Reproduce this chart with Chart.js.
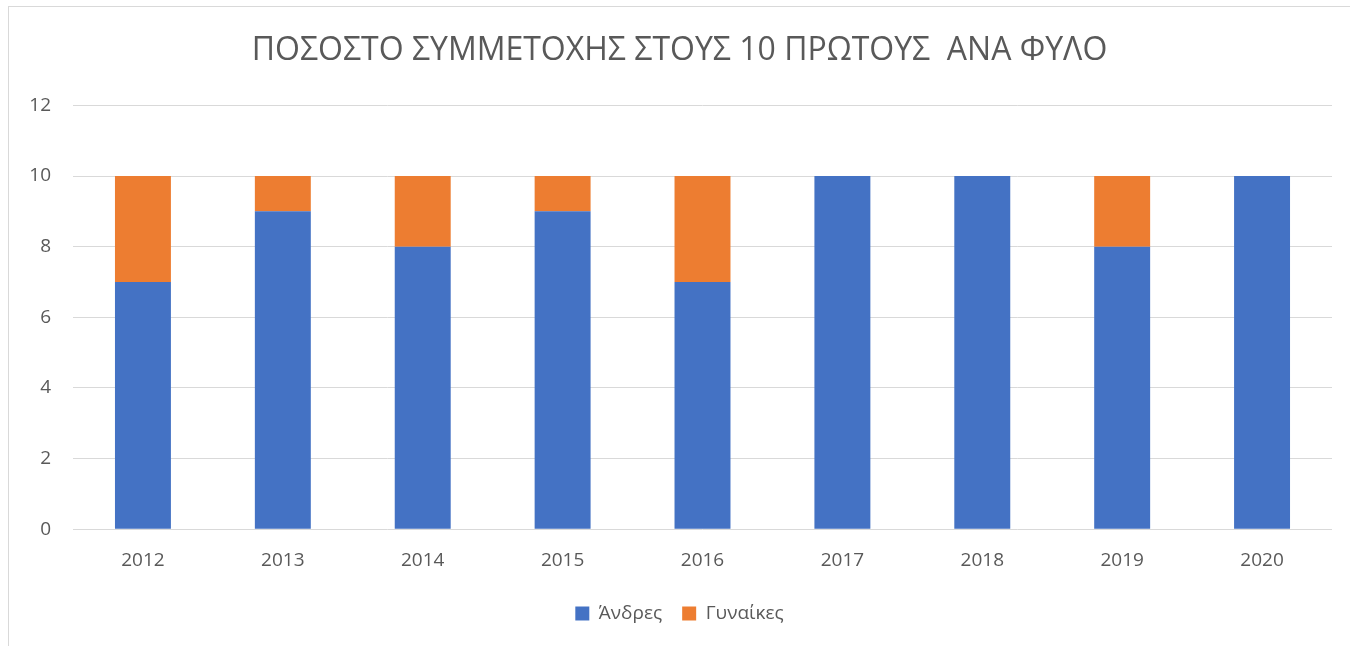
<!DOCTYPE html>
<html>
<head>
<meta charset="utf-8">
<script src="https://cdn.jsdelivr.net/npm/chart.js@4"></script>
<style>
    body { margin: 0; background: #fff; }
    #wrap { position: relative; width: 1350px; height: 646px; }
    #frame {
        position: absolute; left: 8px; top: 6px; right: 0; bottom: 0;
        border-left: 1px solid #d9d9d9; border-top: 1px solid #d9d9d9;
    }
    canvas { position: absolute; left: 0; top: 0; }
</style>
</head>
<body>
<div id="wrap">
    <div id="frame"></div>
    <canvas id="chart" width="1350" height="646"></canvas>
</div>
<script>
// Data
const years = ['2012', '2013', '2014', '2015', '2016', '2017', '2018', '2019', '2020'];
const men = [7, 9, 8, 9, 7, 10, 10, 8, 10];
const women = [3, 1, 2, 1, 3, 0, 0, 2, 0];
const yTicks = [0, 2, 4, 6, 8, 10, 12];

const textColor = '#595959';
const fontFamily = '"Open Sans", "Noto Sans", sans-serif';

const ctx = document.getElementById('chart').getContext('2d');
new Chart(ctx, {
    type: 'bar',
    data: {
        labels: years,
        datasets: [
            {
                label: 'Άνδρες',
                data: men,
                backgroundColor: '#4472c4',
                barPercentage: 0.4,
                categoryPercentage: 1
            },
            {
                label: 'Γυναίκες',
                data: women,
                backgroundColor: '#ed7d31',
                barPercentage: 0.4,
                categoryPercentage: 1
            }
        ]
    },
    options: {
        responsive: false,
        animation: false,
        // extra left padding pushes title and legend centre to the right like the original
        layout: { padding: { top: 22, right: 18, bottom: 13, left: 27 } },
        plugins: {
            title: {
                display: true,
                text: 'ΠΟΣΟΣΤΟ ΣΥΜΜΕΤΟΧΗΣ ΣΤΟΥΣ 10 ΠΡΩΤΟΥΣ  ΑΝΑ ΦΥΛΟ',
                color: textColor,
                font: { family: fontFamily, size: 32, weight: 'normal' },
                padding: { top: 10, bottom: 35 }
            },
            legend: {
                position: 'bottom',
                labels: {
                    color: textColor,
                    font: { family: fontFamily, size: 19 },
                    boxWidth: 14,
                    boxHeight: 14,
                    padding: 20
                }
            },
            tooltip: { enabled: false }
        },
        scales: {
            x: {
                stacked: true,
                grid: { display: false },
                border: { display: false },
                ticks: {
                    color: textColor,
                    font: { family: fontFamily, size: 19 },
                    padding: 12
                }
            },
            y: {
                stacked: true,
                min: 0,
                max: 12,
                afterBuildTicks: axis => { axis.ticks = yTicks.map(v => ({ value: v })); },
                afterFit: axis => { axis.width = 46; },
                grid: { color: '#d9d9d9', lineWidth: 1, drawTicks: false },
                border: { display: false },
                ticks: {
                    color: textColor,
                    font: { family: fontFamily, size: 19 },
                    padding: 22
                }
            }
        }
    }
});
</script>
</body>
</html>
